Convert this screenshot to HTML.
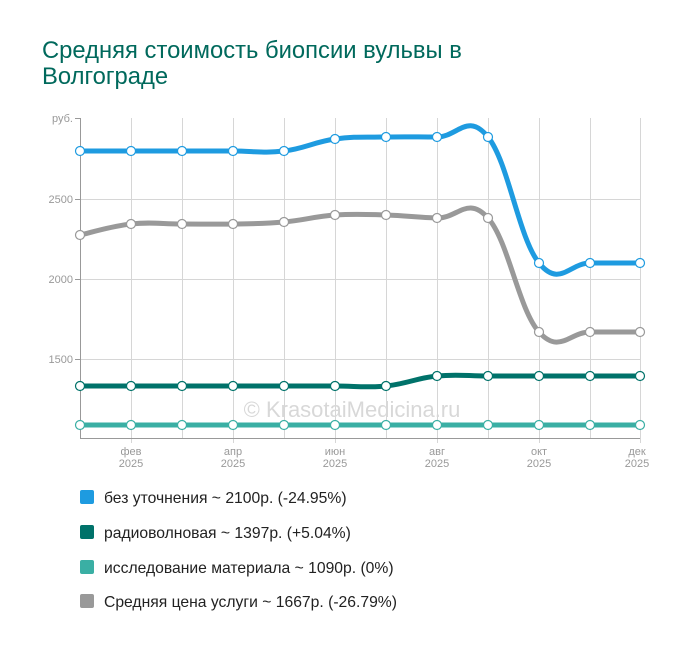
<!DOCTYPE html>
<html><head><meta charset="utf-8"><style>
body{margin:0;background:#fff;width:700px;height:650px;overflow:hidden;font-family:"Liberation Sans",sans-serif}
h1{position:absolute;left:42px;top:38px;margin:0;font-weight:normal;font-size:23.8px;line-height:26px;color:#00695c;width:520px}
</style></head><body>
<h1>Средняя стоимость биопсии вульвы в Волгограде</h1>
<svg id="s" width="700" height="650" style="position:absolute;left:0;top:0" font-family="Liberation Sans, sans-serif">
<g stroke="#d6d6d6" stroke-width="1">
<line x1="80" y1="199.5" x2="640" y2="199.5"/><line x1="80" y1="279.5" x2="640" y2="279.5"/><line x1="80" y1="359.5" x2="640" y2="359.5"/>
</g>
<g id="vg" stroke="#d6d6d6"></g>
<g stroke="#999"><line x1="80.5" y1="118" x2="80.5" y2="438"/><line x1="80" y1="438.5" x2="640" y2="438.5"/>
<line x1="75" y1="118.5" x2="80" y2="118.5"/><line x1="75" y1="199.5" x2="80" y2="199.5"/><line x1="75" y1="279.5" x2="80" y2="279.5"/><line x1="75" y1="359.5" x2="80" y2="359.5"/></g>
<g fill="#999" font-size="11" text-anchor="end"><text x="73" y="122">руб.</text><text x="73" y="203">2500</text><text x="73" y="283">2000</text><text x="73" y="363">1500</text></g>
<g fill="#999" font-size="11" text-anchor="middle">
<text x="131" y="455">фев</text><text x="131" y="467">2025</text>
<text x="233" y="455">апр</text><text x="233" y="467">2025</text>
<text x="335" y="455">июн</text><text x="335" y="467">2025</text>
<text x="437" y="455">авг</text><text x="437" y="467">2025</text>
<text x="539" y="455">окт</text><text x="539" y="467">2025</text>
<text x="637" y="455">дек</text><text x="637" y="467">2025</text></g>
<text x="352" y="417" text-anchor="middle" font-size="22" fill="#d8d8d8">© KrasotaiMedicina.ru</text>
<g id="lines"></g>
<g font-size="15.7" fill="#222">
<rect x="80" y="490" width="14" height="14" rx="2" fill="#1e9be0"/><text x="104" y="503">без уточнения ~ 2100р. (-24.95%)</text>
<rect x="80" y="525" width="14" height="14" rx="2" fill="#00726a"/><text x="104" y="538">радиоволновая ~ 1397р. (+5.04%)</text>
<rect x="80" y="560" width="14" height="14" rx="2" fill="#3aafa4"/><text x="104" y="573">исследование материала ~ 1090р. (0%)</text>
<rect x="80" y="594" width="14" height="14" rx="2" fill="#999"/><text x="104" y="607">Средняя цена услуги ~ 1667р. (-26.79%)</text>
</g>
</svg>
<script>
var xs=[80,131,182,233,284,335,386,437,488,539,590,640];
var vg=document.getElementById('vg'),h='';
xs.forEach(function(x,i){if(i>0)h+='<line x1="'+(x+.5)+'" y1="118" x2="'+(x+.5)+'" y2="'+(i%2?443:438)+'"/>';});
vg.innerHTML=h;
var S=[
['#3aafa4',[425,425,425,425,425,425,425,425,425,425,425,425]],
['#00726a',[386,386,386,386,386,386,386,376,376,376,376,376]],
['#999',[235,224,224,224,222,215,215,218,218,332,332,332]],
['#1e9be0',[151,151,151,151,151,139,137,137,137,263,263,263]]];
function path(ys){var d='M'+xs[0]+','+ys[0];for(var i=0;i<ys.length-1;i++){var p0=i?i-1:i,p3=i+2<ys.length?i+2:i+1,t=0.2;
d+=' C'+(xs[i]+(xs[i+1]-xs[p0])*t)+','+(ys[i]+(ys[i+1]-ys[p0])*t)+' '+(xs[i+1]-(xs[p3]-xs[i])*t)+','+(ys[i+1]-(ys[p3]-ys[i])*t)+' '+xs[i+1]+','+ys[i+1];}return d;}
var o='';S.forEach(function(s){o+='<path d="'+path(s[1])+'" fill="none" stroke="'+s[0]+'" stroke-width="5"/>';
s[1].forEach(function(y,i){o+='<circle cx="'+xs[i]+'" cy="'+y+'" r="4.5" fill="#fff" stroke="'+s[0]+'" stroke-width="1.2"/>';});});
document.getElementById('lines').innerHTML=o;
</script>
</body></html>
